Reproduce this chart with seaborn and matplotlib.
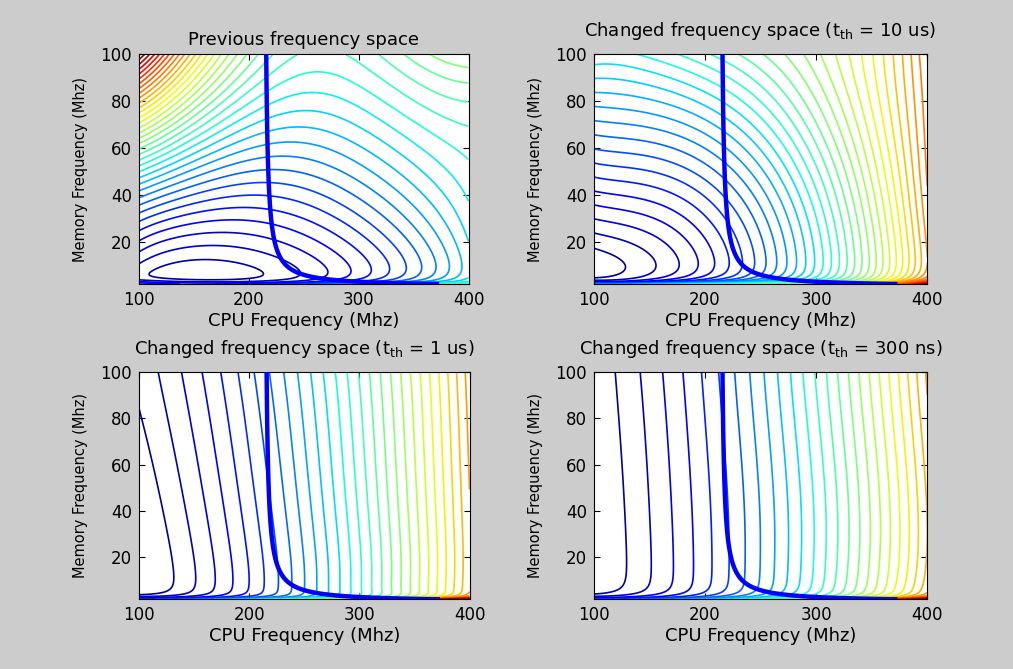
import numpy as np
import matplotlib
matplotlib.use("Agg")
import matplotlib.pyplot as plt
from matplotlib.colors import Normalize
import seaborn as sns

# ------------------------------------------------------------------
# Values
# ------------------------------------------------------------------
CPU_MHZ = [100, 150, 200, 250, 300, 350, 400]                  # sampled columns (x)
MEM_MHZ = [2.2, 4, 6, 8, 12, 20, 30, 40, 60, 80, 100]          # sampled rows (y)

# contour-level index read at each (memory row, cpu column)
LEVELS_PREVIOUS = [
    [4.5, 3.5, 4.0, 6.0, 9.0, 12.5, 15.5],
    [1.8, 0.9, 1.1, 2.6, 5.0, 8.3, 12.3],
    [1.45, 0.5, 0.75, 2.3, 4.6, 7.7, 11.8],
    [1.3, 0.4, 0.6, 2.1, 4.3, 7.3, 11.5],
    [2.4, 1.0, 1.1, 2.7, 4.6, 7.5, 11.7],
    [3.8, 2.6, 2.05, 3.8, 5.6, 8.1, 12.0],
    [6.2, 4.6, 3.9, 5.4, 6.8, 9.2, 12.6],
    [9.7, 7.2, 5.7, 6.8, 8.3, 10.5, 13.3],
    [16.8, 12.8, 9.4, 10.0, 10.8, 12.4, 14.3],
    [26.5, 19.5, 13.6, 13.1, 13.5, 14.7, 16.2],
    [36.0, 25.5, 17.3, 15.1, 15.6, 17.0, 19.1],
]
LEVELS_10US = [
    [8.0, 10.0, 13.0, 17.0, 21.0, 27.0, 38.0],
    [1.5, 3.0, 6.0, 10.5, 15.5, 23.0, 32.0],
    [0.6, 2.1, 4.8, 9.3, 14.5, 22.0, 30.8],
    [0.0, 1.8, 4.3, 8.7, 14.0, 21.5, 30.0],
    [0.45, 1.85, 4.35, 8.8, 14.0, 21.5, 30.0],
    [1.45, 2.6, 4.8, 9.0, 14.1, 21.7, 30.2],
    [3.0, 3.8, 5.8, 9.75, 14.6, 22.3, 30.5],
    [4.65, 5.3, 7.2, 10.8, 15.3, 23.0, 30.8],
    [8.2, 8.5, 10.25, 13.1, 17.4, 24.3, 31.2],
    [11.3, 11.8, 13.35, 16.0, 20.0, 25.2, 31.6],
    [14.8, 15.3, 16.7, 19.1, 21.5, 26.0, 32.0],
]
LEVELS_1US = [
    [5.0, 7.0, 10.0, 14.0, 19.5, 26.0, 35.0],
    [1.0, 2.6, 5.4, 9.2, 14.0, 19.5, 26.5],
    [0.0, 2.1, 5.1, 9.0, 13.85, 19.45, 26.0],
    [-0.3, 1.9, 5.0, 8.9, 13.8, 19.4, 25.8],
    [-0.3, 1.95, 5.05, 8.95, 13.85, 19.4, 25.8],
    [-0.3, 2.0, 5.1, 9.0, 13.9, 19.4, 25.8],
    [-0.1, 2.2, 5.3, 9.2, 14.05, 19.5, 25.85],
    [0.1, 2.4, 5.5, 9.4, 14.2, 19.6, 25.9],
    [0.5, 2.8, 5.9, 9.75, 14.5, 19.9, 26.1],
    [0.9, 3.2, 6.3, 10.1, 14.8, 20.1, 26.3],
    [1.3, 3.6, 6.7, 10.5, 15.1, 20.4, 26.5],
]
LEVELS_300NS = [
    [5.0, 6.5, 9.0, 12.5, 17.0, 23.0, 32.0],
    [1.2, 2.8, 5.5, 8.9, 13.2, 18.3, 24.5],
    [0.3, 2.2, 4.9, 8.3, 12.6, 17.7, 23.8],
    [0.0, 2.0, 4.7, 8.1, 12.4, 17.5, 23.5],
    [-0.1, 1.95, 4.65, 8.05, 12.3, 17.35, 23.3],
    [-0.2, 1.9, 4.6, 8.0, 12.2, 17.2, 23.1],
    [-0.15, 1.95, 4.65, 8.0, 12.2, 17.15, 23.05],
    [-0.1, 2.0, 4.7, 8.0, 12.2, 17.1, 23.0],
    [0.0, 2.1, 4.8, 8.2, 12.5, 17.4, 23.4],
    [0.1, 2.25, 5.0, 8.45, 12.85, 17.8, 23.8],
    [0.2, 2.4, 5.2, 8.7, 13.2, 18.2, 24.2],
]
LEVEL_COUNTS = [36, 40, 35, 32]      # number of contour levels per panel

TITLES = [
    "Previous frequency space",
    r"Changed frequency space (t$_{\mathrm{th}}$ = 10 us)",
    r"Changed frequency space (t$_{\mathrm{th}}$ = 1 us)",
    r"Changed frequency space (t$_{\mathrm{th}}$ = 300 ns)",
]
XLABEL = "CPU Frequency (Mhz)"
YLABEL = "Memory Frequency (Mhz)"
XTICKS = [100, 200, 300, 400]
YTICKS = [20, 40, 60, 80, 100]

# deadline curve: cpu_work/f_cpu + mem_work/f_mem = deadline
CPU_WORK = 1.0
MEM_WORK = 0.003987
DEADLINE = 1.0 / 214.0

# ------------------------------------------------------------------
sns.set_theme(style="ticks")
plt.rcParams["font.family"] = ["DejaVu Sans"]
plt.rcParams["mathtext.fontset"] = "dejavusans"


def design(u, y):
    w = y / 100.0
    xb = [np.ones_like(u), u, u ** 2, u ** 3, 1.0 / u]
    yb = [np.ones_like(y), w, w ** 2, w ** 3, 2.0 / y, 4.0 / y ** 2, 8.0 / y ** 3]
    return np.stack([a * b for a in xb for b in yb], axis=-1)


def fitted_field(levels, XF, YF):
    gx, gy = np.meshgrid(np.array(CPU_MHZ, float), np.array(MEM_MHZ, float))
    A = design(gx.ravel() / 100.0, gy.ravel())
    coef = np.linalg.lstsq(A, np.ravel(np.array(levels, float)), rcond=None)[0]
    return design(XF / 100.0, YF) @ coef


W, H = 1013, 669
fig = plt.figure(figsize=(W / 100, H / 100), dpi=100, facecolor="#cccccc")

boxes = [  # left, top, right, bottom in pixels
    (139, 54.3, 468.5, 284.0),
    (593.7, 54.3, 927.3, 284.0),
    (139, 371.7, 469.5, 599.3),
    (593.7, 371.7, 927.3, 599.3),
]
title_pads = [7.0, 13.0, 13.0, 13.0]
panels = [LEVELS_PREVIOUS, LEVELS_10US, LEVELS_1US, LEVELS_300NS]
cmap = matplotlib.colormaps["jet"]

xf = np.linspace(100, 400, 361)
yf = np.concatenate([np.linspace(2.0, 12.0, 260), np.linspace(12.0, 100.0, 300)[1:]])
XF, YF = np.meshgrid(xf, yf)
T = CPU_WORK / XF + MEM_WORK / YF

for i, (lv, box) in enumerate(zip(panels, boxes)):
    l, t, r, b = box
    ax = fig.add_axes([l / W, 1 - b / H, (r - l) / W, (b - t) / H])
    ax.set_facecolor("white")
    Z = fitted_field(lv, XF, YF)
    n = LEVEL_COUNTS[i]
    levels = np.arange(1, n + 1)
    ax.contour(XF, YF, Z, levels=levels, cmap=cmap, norm=Normalize(0, n),
               linewidths=1.2)
    ax.contour(XF, YF, T, levels=[DEADLINE], colors=["#0000ff"], linewidths=3.2,
               zorder=5)
    ax.set_xlim(100, 400)
    ax.set_ylim(2, 100)
    ax.set_xticks(XTICKS)
    ax.set_yticks(YTICKS)
    ax.tick_params(direction="in", top=True, right=True, length=4, width=0.8,
                   labelsize=12, colors="black", pad=5)
    for s in ax.spines.values():
        s.set_color("black")
        s.set_linewidth(0.8)
    ax.set_xlabel(XLABEL, fontsize=13, labelpad=2, color="black")
    ax.set_ylabel(YLABEL, fontsize=10.5, labelpad=9, color="black")
    ax.set_title(TITLES[i], fontsize=13, pad=title_pads[i], color="black")

fig.savefig("out.png", dpi=100, facecolor=fig.get_facecolor())
